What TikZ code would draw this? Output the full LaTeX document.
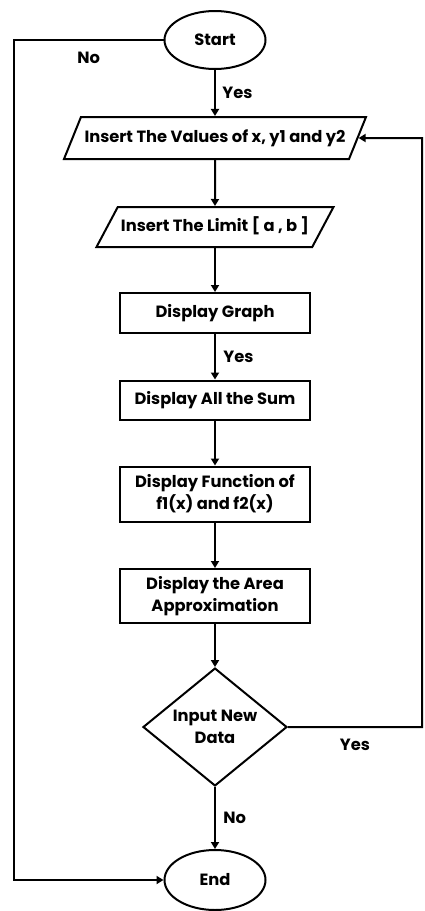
\documentclass[tikz,border=0pt]{standalone}
\usepackage{fontspec}
\setmainfont{Poppins}
\usepackage{tikz}
\usetikzlibrary{shapes,arrows,arrows.meta}

\tikzset{
  startStop/.style={draw,ellipse,line width=2pt,inner sep=0pt,minimum width=101pt,minimum height=58pt},
  ioBox/.style={draw,trapezium,trapezium stretches body=true,line width=2pt,inner xsep=0pt,text height=12pt,text depth=4pt},
  procBox/.style={draw,rectangle,line width=2pt,inner sep=0pt,minimum width=190pt,align=center},
  decisionBox/.style={draw,diamond,line width=2pt,inner sep=0pt,minimum width=144pt,minimum height=113pt,align=center},
  flowLine/.style={line width=2pt,-{Triangle[length=7pt,width=8pt]}}
}

\begin{document}
\begin{tikzpicture}[x=1pt,y=-1pt,font=\fontsize{16.3}{22}\selectfont\bfseries]
\useasboundingbox (0,0) rectangle (424,911);
\node[startStop] (start) at (215,40) {Start};
\node[ioBox,trapezium left angle=68,trapezium right angle=112,inner ysep=13pt,minimum width=302pt] (values) at (215,138) {Insert The Values of x, y1 and y2};
\node[ioBox,trapezium left angle=62,trapezium right angle=118,inner ysep=12pt,minimum width=237pt] (limit) at (215,227) {Insert The Limit [ a , b ]};
\node[procBox,minimum height=40pt] (graph) at (215,313) {Display Graph};
\node[procBox,minimum height=39pt] (sum) at (215,400) {Display All the Sum};
\node[procBox,minimum height=55pt] (func) at (215,494) {Display Function of\\f1(x) and f2(x)};
\node[procBox,minimum height=54pt] (area) at (215,596) {Display the Area\\Approximation};
\node[decisionBox] (check) at (215,727) {Input New\\Data};
\node[startStop,minimum height=60pt] (finish) at (215,880) {End};
\coordinate (leftTop) at (14,40);
\coordinate (leftBot) at (14,880);
\coordinate (rightBot) at (422,727);
\coordinate (rightTop) at (422,138);
\draw[flowLine] (start) -- node[right=3pt] {Yes} (values);
\draw[flowLine] (values) -- (limit);
\draw[flowLine] (limit) -- (graph);
\draw[flowLine] (graph) -- node[right=4pt] {Yes} (sum);
\draw[flowLine] (sum) -- (func);
\draw[flowLine] (func) -- (area);
\draw[flowLine] (area) -- (check);
\draw[flowLine] (check) -- node[right=4pt] {No} (finish);
\draw[flowLine] (start.west) -- node[below=8pt] {No} (leftTop) -- (leftBot) -- (finish.west);
\draw[flowLine] (check.east) -- node[below=8pt] {Yes} (rightBot) -- (rightTop) -- (values.east);
\end{tikzpicture}
\end{document}
